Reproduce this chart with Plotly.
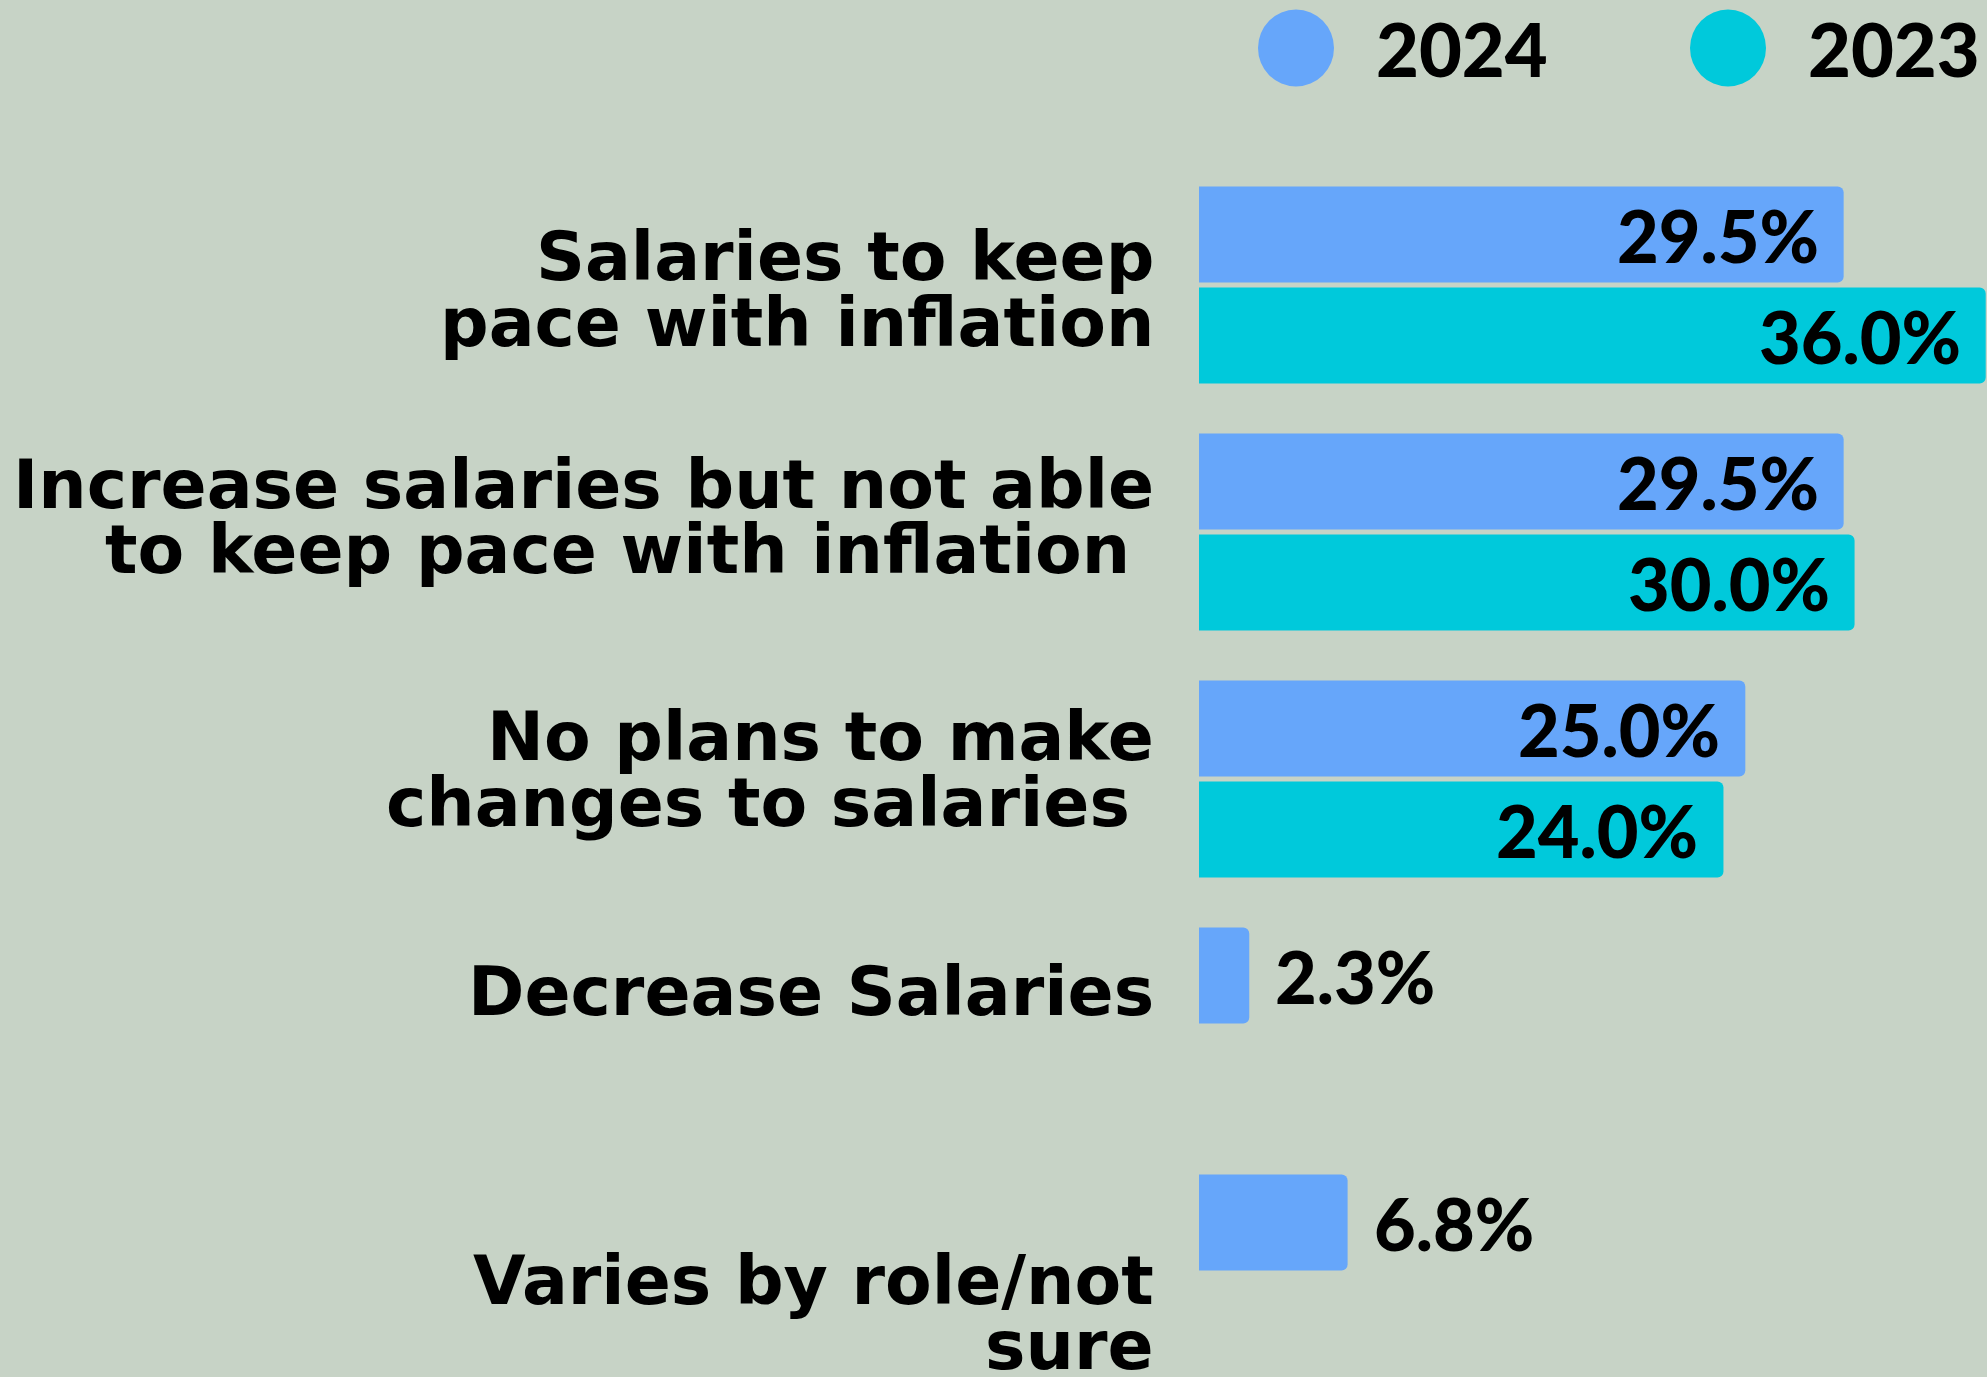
import plotly.graph_objects as go

# ---- data ----
categories = [
    "Salaries to keep pace with inflation",
    "Increase salaries but not able to keep pace with inflation",
    "No plans to make changes to salaries",
    "Decrease Salaries",
    "Varies by role/not sure",
]
label_lines = [
    ["Salaries to keep", "pace with inflation"],
    ["Increase salaries but not able", "to keep pace with inflation\u00a0"],
    ["No plans to make", "changes to salaries\u00a0"],
    ["Decrease Salaries"],
    ["Varies by role/not", "sure"],
]
# vertical pixel offset of each label line's centre from the category centre (down = positive)
label_offsets = [
    [-29, 37],
    [-48, 17],
    [-43, 23],
    [-35],
    [7, 72],
]
series_names = ["2024", "2023"]
values_2024 = [29.5, 29.5, 25.0, 2.3, 6.8]
values_2023 = [36.0, 30.0, 24.0, None, None]

# ---- style ----
BG = "#C7D3C6"
C2024 = "#66A6FA"
C2023 = "#00C9DB"
LABEL_FONT = "DejaVu Sans"
NUM_FONT = "Lato"
W, H = 1987, 1377
ML = 1199
PITCH = 247          # px per category
CAT0_PX = 285        # pixel centre of first category
SLOT = 101           # px slot per bar within group
BARGAP = 1 - 2 * SLOT / PITCH
GROUPGAP = 5 / SLOT

idx = list(range(len(categories)))

fig = go.Figure()
for name, vals, col in [(series_names[0], values_2024, C2024), (series_names[1], values_2023, C2023)]:
    fig.add_trace(go.Bar(
        y=idx, x=vals, orientation="h", name=name,
        marker=dict(color=col, cornerradius=6, line=dict(width=0)),
        hoverinfo="skip", showlegend=False,
    ))

annotations = []
# category labels
for i, (lines, offs) in enumerate(zip(label_lines, label_offsets)):
    for line, off in zip(lines, offs):
        annotations.append(dict(
            x=0, y=i, xref="x", yref="y", text=line, showarrow=False,
            xanchor="right", yanchor="middle", xshift=-43, yshift=-off,
            font=dict(family=LABEL_FONT, size=68, color="#000000", weight="bold"),
        ))

# value labels
for vals, ysh in [(values_2024, SLOT / 2), (values_2023, -SLOT / 2)]:
    for i, v in enumerate(vals):
        if v is None:
            continue
        inside = v > 10
        annotations.append(dict(
            x=v, y=i, xref="x", yref="y", text=f"{v:.1f}%", showarrow=False,
            xanchor="right" if inside else "left", yanchor="middle",
            xshift=-23 if inside else 24, yshift=ysh,
            font=dict(family=NUM_FONT, size=72, color="#000000", weight=900),
        ))

# legend (drawn manually)
plot_w = W - ML
def px_to_paper_x(px):
    return (px - ML) / plot_w
def px_to_paper_y(py):
    return 1 - py / H

legend_items = [(series_names[0], C2024, 1296, 1374), (series_names[1], C2023, 1728, 1806)]
shapes = []
for name, col, cx, tx in legend_items:
    shapes.append(dict(
        type="circle", xref="paper", yref="paper",
        xsizemode="pixel", ysizemode="pixel",
        xanchor=px_to_paper_x(cx), yanchor=px_to_paper_y(48),
        x0=-38, x1=38, y0=-38.5, y1=38.5,
        fillcolor=col, line=dict(width=0),
    ))
    annotations.append(dict(
        x=px_to_paper_x(tx), y=px_to_paper_y(48), xref="paper", yref="paper",
        text=name, showarrow=False, xanchor="left", yanchor="middle",
        font=dict(family=NUM_FONT, size=74, color="#000000", weight=900),
    ))

y_top = -CAT0_PX / PITCH
y_bot = (H - CAT0_PX) / PITCH

fig.update_layout(
    width=W, height=H, autosize=False,
    paper_bgcolor=BG, plot_bgcolor=BG,
    margin=dict(l=ML, r=0, t=0, b=0, pad=0),
    barmode="group", bargap=BARGAP, bargroupgap=GROUPGAP,
    xaxis=dict(range=[0, 36.06], visible=False, fixedrange=True),
    yaxis=dict(range=[y_bot, y_top], visible=False, fixedrange=True),
    annotations=annotations, shapes=shapes,
    showlegend=False,
)

fig.write_html(
    "out.html",
    config={"displayModeBar": False},
    post_script="document.body.style.margin='0';document.body.style.background='" + BG + "';document.documentElement.style.overflow='hidden';",
)
